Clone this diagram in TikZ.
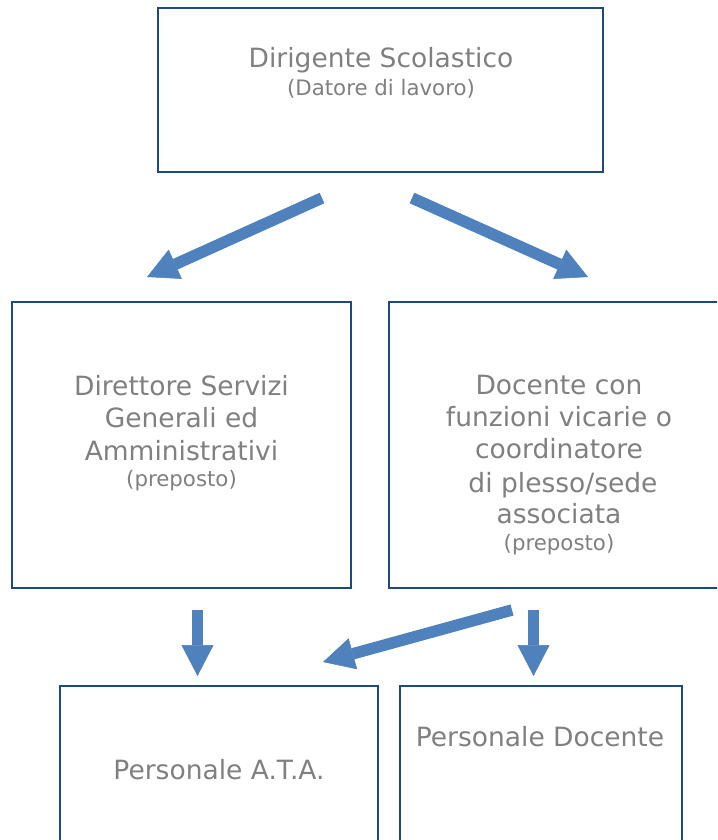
\documentclass[tikz,border=0pt]{standalone}
\usepackage{fontspec}
\setmainfont{DejaVu Sans}
\usetikzlibrary{arrows.meta}
\definecolor{boxblue}{RGB}{31,73,125}
\definecolor{arrowblue}{RGB}{79,129,189}
\definecolor{txtgray}{RGB}{128,128,128}
\begin{document}
\begin{tikzpicture}[x=1pt,y=-1pt,
  box/.style={draw=boxblue, line width=1.3pt, fill=white, inner sep=0pt},
  big/.style={text=txtgray, font=\fontsize{26.5}{32}\selectfont, anchor=base, inner sep=0pt},
  small/.style={text=txtgray, font=\fontsize{21.3}{26}\selectfont, anchor=base, inner sep=0pt},
  arr/.style={draw=arrowblue, line width=11.5pt, -{Triangle[width=32pt,length=31pt,line width=0.5pt]}}]
\useasboundingbox (0,0) rectangle (717,840);
\clip (0,0) rectangle (717,840);
% boxes
\node[box, minimum width=445pt, minimum height=164pt] (ds) at (380.5,90) {};
\node[box, minimum width=339pt, minimum height=286pt] (dsga) at (181.5,445) {};
\node[box, minimum width=340pt, minimum height=286pt] (doc) at (559,445) {};
\node[box, minimum width=318pt, minimum height=200pt] (ata) at (219,786) {};
\node[box, minimum width=282pt, minimum height=200pt] (pd) at (541,786) {};
% texts
\node[big] (t1) at (381,68) {Dirigente Scolastico};
\node[small] (t2) at (381,96) {(Datore di lavoro)};
\node[big] (l1) at (181.5,395) {Direttore Servizi};
\node[big] (l2) at (181.5,427) {Generali ed};
\node[big] (l3) at (181.5,460) {Amministrativi};
\node[small] (l4) at (181.5,486) {(preposto)};
\node[big] (r1) at (559,394) {Docente con};
\node[big] (r2) at (559,426) {funzioni vicarie o};
\node[big] (r3) at (559,458) {coordinatore};
\node[big] (r4) at (563,492) {di plesso/sede};
\node[big] (r5) at (559,523) {associata};
\node[small] (r6) at (559,550) {(preposto)};
\node[big] (b1) at (219,779) {Personale A.T.A.};
\node[big] (b2) at (540,746) {Personale Docente};
% arrow ends
\coordinate (a1s) at (322,198); \coordinate (a1e) at (147,277);
\coordinate (a2s) at (412,198); \coordinate (a2e) at (588,277);
\coordinate (a3s) at (197.5,610); \coordinate (a3e) at (197.5,676);
\coordinate (a4s) at (533.5,610); \coordinate (a4e) at (533.5,676);
\coordinate (a5s) at (512,610); \coordinate (a5e) at (323,662);
\draw[arr] (a1s) -- (a1e);
\draw[arr] (a2s) -- (a2e);
\draw[arr] (a3s) -- (a3e);
\draw[arr] (a4s) -- (a4e);
\draw[arr] (a5s) -- (a5e);
\end{tikzpicture}
\end{document}
